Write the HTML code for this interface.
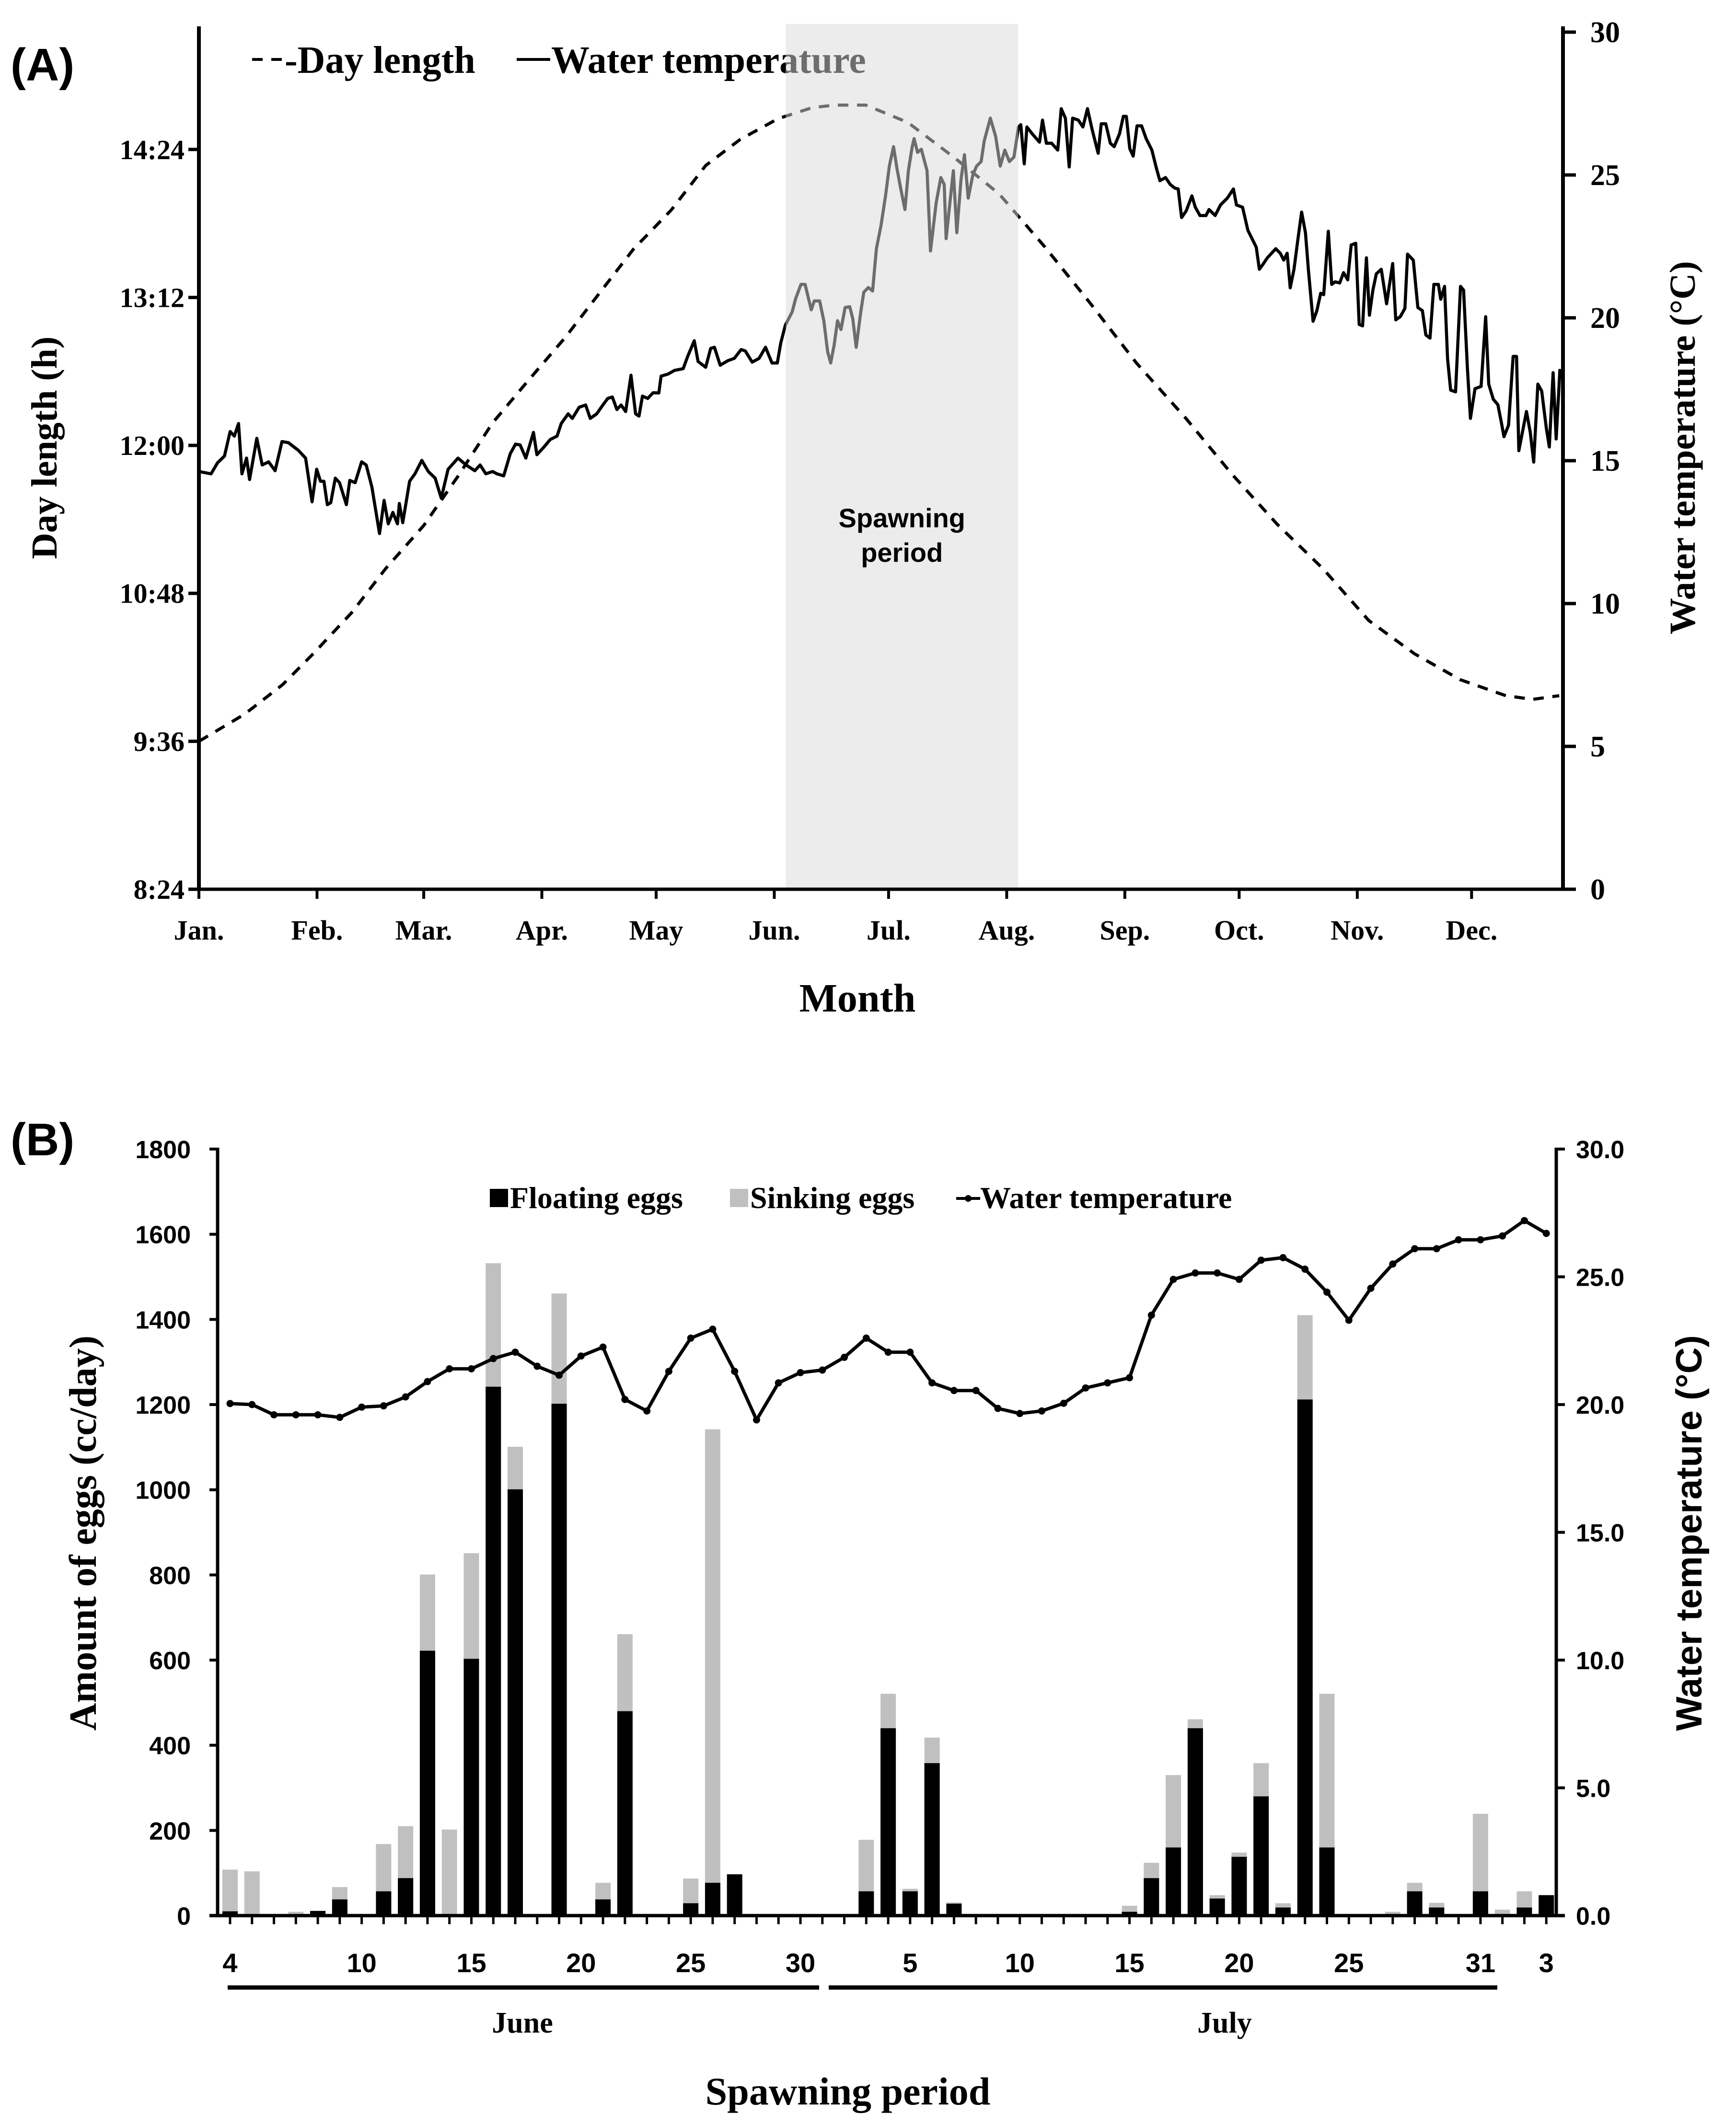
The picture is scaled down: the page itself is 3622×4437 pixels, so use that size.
<!DOCTYPE html>
<html><head><meta charset="utf-8">
<style>
html,body{margin:0;padding:0;background:#fff;}
svg{display:block;}
.tb{font-family:"Liberation Serif",serif;font-weight:bold;fill:#000;}
.sb{font-family:"Liberation Sans",sans-serif;font-weight:bold;fill:#000;}
</style></head>
<body>
<svg id="fig" width="3622" height="4437" viewBox="0 0 3622 4437" xmlns="http://www.w3.org/2000/svg">
<rect width="3622" height="4437" fill="#fff"/>
<g id="panelA"></g>
<g id="panelB"></g>
</svg>
<script>
// ---------- Panel A data ----------
const monthLabels = ["Jan.","Feb.","Mar.","Apr.","May","Jun.","Jul.","Aug.","Sep.","Oct.","Nov.","Dec."];
const monthStartDays = [0,31,59,90,120,151,181,212,243,273,304,334];
const leftTickLabels = ["8:24","9:36","10:48","12:00","13:12","14:24"];
const leftTickHours = [8.4,9.6,10.8,12.0,13.2,14.4];
const rightTickLabelsA = [0,5,10,15,20,25,30];
const dayLenDays = [0,12,22,30,40,49,59,68,77,86,96,105,114,124,133,142,152,161,167,175,186,198,210,222,234,246,259,271,283,295,307,319,331,343,350,357];
const dayLenHours = [9.60,9.82,10.06,10.31,10.64,11.00,11.35,11.75,12.18,12.51,12.87,13.23,13.59,13.91,14.27,14.48,14.65,14.74,14.76,14.76,14.62,14.34,14.04,13.61,13.15,12.67,12.22,11.77,11.36,11.00,10.58,10.31,10.10,9.97,9.94,9.97];
const tempDays = [0,3.2,4.9,6.7,8.2,9.3,10.4,11.3,12.5,13.3,15.2,16.6,18.3,20.0,21.8,23.5,26.1,28.0,29.7,30.9,31.9,32.8,33.7,34.6,35.8,36.9,38.7,39.6,41.0,42.7,43.9,45.4,47.4,48.6,49.7,50.9,52.1,52.6,53.5,55.3,56.7,58.5,60.2,62.0,63.6,65.4,68.0,70.1,72.4,73.8,75.3,77.1,78.2,80.0,81.7,83.1,84.3,85.8,87.8,88.7,90.5,92.2,94.0,95.1,96.9,98.0,99.8,101.5,102.7,104.4,105.6,107.3,108.5,109.7,110.8,112.0,113.4,114.6,115.5,116.4,117.8,119.2,120.7,121.3,123.1,124.8,127.1,128.3,130.0,131.0,133.0,134.3,135.3,136.8,138.8,140.5,142.3,143.4,145.2,147.0,148.7,150.4,151.8,152.7,153.9,155.7,156.6,158.0,159.1,160.7,161.5,162.9,164.0,165.0,165.8,166.7,167.6,168.5,169.6,170.8,171.6,172.5,173.7,174.5,175.7,176.8,177.8,179.0,180.2,181.2,182.3,183.2,184.2,185.3,186.2,187.2,187.7,188.6,189.6,191.1,192.0,193.5,194.7,195.6,196.1,197.1,198.0,198.9,200.0,200.9,201.9,203.1,204.1,205.3,206.1,207.7,209.1,210.3,211.5,212.7,213.9,215.1,215.7,216.6,217.3,218.7,220.6,221.4,222.4,223.8,225.4,226.3,227.4,228.4,229.3,230.8,232.0,233.2,234.4,236.0,236.8,238.0,239.2,240.2,241.6,242.6,243.4,244.3,245.2,246.2,247.4,248.6,250.1,251.3,252.2,253.7,254.9,256.1,257.0,257.9,259.1,260.6,261.5,262.7,264.3,265.1,266.7,268.1,269.9,271.5,272.3,273.9,275.3,276.5,277.5,278.3,279.2,280.4,282.6,283.8,284.7,285.6,286.4,287.4,288.3,289.4,290.4,291.2,292.4,293.4,294.4,295.2,296.4,297.3,298.2,299.4,300.4,301.5,302.4,303.6,304.5,305.4,306.4,307.2,308.1,309.0,310.3,311.7,313.3,314.1,315.3,316.5,317.2,318.7,319.9,321.1,322.0,323.1,324.1,325.3,325.9,326.9,327.7,328.5,329.8,331.1,331.9,332.9,333.7,334.9,336.5,337.7,338.5,339.7,340.9,341.8,342.5,343.7,344.9,345.8,346.4,348.4,349.4,350.3,351.4,352.4,353.6,354.4,355.4,356.2,357.2];
const tempValsA = [14.62,14.54,14.93,15.16,16.02,15.86,16.30,14.54,15.09,14.34,15.78,14.85,14.96,14.65,15.67,15.63,15.36,15.09,13.56,14.70,14.28,14.28,13.46,13.53,14.39,14.23,13.46,14.31,14.23,14.96,14.85,14.08,12.45,13.61,12.79,13.19,12.79,13.50,12.83,14.28,14.54,15.01,14.62,14.39,13.69,14.70,15.09,14.85,14.65,14.85,14.54,14.62,14.54,14.47,15.24,15.58,15.55,15.09,15.99,15.21,15.47,15.74,15.86,16.30,16.64,16.48,16.87,16.95,16.48,16.64,16.87,17.18,17.23,16.79,16.95,16.72,17.99,16.64,16.56,17.26,17.18,17.38,17.37,17.96,18.03,18.16,18.22,18.66,19.20,18.47,18.27,18.93,18.97,18.34,18.50,18.58,18.89,18.84,18.45,18.58,18.97,18.42,18.42,19.12,19.74,20.21,20.67,21.17,21.17,20.28,20.59,20.59,19.90,18.81,18.42,19.04,19.90,19.59,20.36,20.39,19.97,18.97,20.21,20.90,21.06,20.94,22.42,23.22,24.27,25.31,25.99,25.23,24.51,23.79,25.15,25.99,26.27,25.79,25.90,25.15,22.34,24.03,24.91,24.67,22.77,24.03,25.15,22.98,24.83,25.71,24.19,24.99,25.31,25.47,26.19,26.99,26.35,25.31,25.87,25.47,25.63,26.68,26.76,25.39,26.68,26.44,26.15,26.92,26.11,26.11,25.87,27.32,26.99,25.28,26.99,26.92,26.68,27.32,26.60,25.76,26.79,26.79,26.11,25.99,26.44,27.05,27.05,25.92,25.66,26.72,26.72,26.27,25.87,25.23,24.80,24.91,24.67,24.54,24.51,23.51,23.74,24.27,23.87,23.58,23.58,23.79,23.58,23.95,24.19,24.51,23.95,23.87,23.06,22.74,22.47,21.70,21.86,22.10,22.42,22.26,22.02,22.26,21.05,21.70,22.63,23.70,22.98,21.65,19.88,20.25,20.86,20.81,23.03,21.17,21.26,21.22,21.58,21.33,22.55,22.61,19.77,19.72,22.10,20.09,20.97,21.54,21.70,20.49,21.90,19.93,20.04,20.33,22.23,22.02,20.36,20.25,19.40,19.29,21.17,21.17,20.65,21.10,18.57,17.47,17.41,21.10,20.97,18.24,16.48,17.52,17.60,20.04,17.68,17.15,16.96,16.35,15.84,16.24,18.65,18.65,15.35,16.72,16.00,14.95,17.68,17.44,16.16,15.48,18.08,15.76,18.21];
const spawnStartDay = 154, spawnEndDay = 215;

// ---------- Panel B data ----------
const dayLabelsB = ["4","10","15","20","25","30","5","10","15","20","25","31","3"];
const dayLabelIdx = [0,6,11,16,21,26,31,36,41,46,51,57,60];
const eggTicksB = [0,200,400,600,800,1000,1200,1400,1600,1800];
const tempTicksB = ["0.0","5.0","10.0","15.0","20.0","25.0","30.0"];
const barDayIdx  = [0,1,3,4,5,7,8,9,10,11,12,13,15,17,18,21,22,23,29,30,31,32,33,41,42,43,44,45,46,47,48,49,50,53,54,55,57,58,59,60];
const floatingEggs=[10,0,0,11,38,57,88,622,0,603,1242,1001,1202,38,480,29,77,97,57,440,57,358,28,9,88,160,440,40,138,280,19,1212,160,0,57,19,57,0,19,48];
const totalEggs  =[108,104,9,11,67,168,210,801,202,851,1532,1101,1461,77,661,87,1142,97,178,521,63,418,31,23,124,330,461,48,148,358,29,1410,521,9,77,30,239,14,57,48];
const waterTempB = [20.04,20.0,19.6,19.6,19.6,19.5,19.9,19.95,20.3,20.9,21.4,21.4,21.8,22.05,21.5,21.15,21.9,22.25,20.2,19.75,21.3,22.6,22.95,21.3,19.4,20.85,21.25,21.35,21.85,22.6,22.05,22.05,20.85,20.55,20.55,19.85,19.65,19.75,20.05,20.65,20.85,21.05,23.5,24.9,25.15,25.15,24.9,25.65,25.75,25.3,24.4,23.3,24.55,25.5,26.1,26.1,26.45,26.45,26.6,27.2,26.7];

const NS="http://www.w3.org/2000/svg";
function mk(parent, tag, attrs, text){
  const e=document.createElementNS(NS,tag);
  for(const k in attrs) e.setAttribute(k,attrs[k]);
  if(text!==undefined) e.textContent=text;
  parent.appendChild(e);
  return e;
}
// ========== PANEL A ==========
const A=document.getElementById('panelA');
const xA=d=>415+d*7.95;
const yL=h=>1855-(h-8.4)*257.2;
const yR=t=>1855-t*59.6;
let t;
t=mk(A,'text',{x:22,y:168,'font-size':96,class:'sb'},'(A)');


// legend
let lg=mk(A,'g',{});


t=mk(lg,'line',{x1:526,y1:124,x2:548,y2:124,stroke:'#000','stroke-width':6});
t=mk(lg,'line',{x1:566,y1:124,x2:588,y2:124,stroke:'#000','stroke-width':6});
t=mk(lg,'text',{x:594,y:152,'font-size':80,class:'tb'},'-Day length');


t=mk(lg,'line',{x1:1078,y1:124,x2:1148,y2:124,stroke:'#000','stroke-width':6});
t=mk(lg,'text',{x:1150,y:152,'font-size':80,class:'tb'},'Water temperature');


// day length
let pts=dayLenDays.map((d,i)=>xA(d).toFixed(1)+','+yL(dayLenHours[i]).toFixed(1)).join(' ');
t=mk(A,'polyline',{points:pts,fill:'none',stroke:'#000','stroke-width':6.5,'stroke-dasharray':'22 18'});


// water temperature
pts=tempDays.map((d,i)=>xA(d).toFixed(1)+','+yR(tempValsA[i]).toFixed(1)).join(' ');
t=mk(A,'polyline',{points:pts,fill:'none',stroke:'#000','stroke-width':6.5,'stroke-linejoin':'round'});


// spawning shade (overlay making content gray)
t=mk(A,'rect',{x:xA(spawnStartDay),y:50,width:xA(spawnEndDay)-xA(spawnStartDay),height:1805,fill:'#d9d9d9','fill-opacity':0.5});


const sx=(xA(spawnStartDay)+xA(spawnEndDay))/2;
t=mk(A,'text',{x:sx,y:1100,'font-size':56,class:'sb','text-anchor':'middle',fill:'#222'},'Spawning');


t=mk(A,'text',{x:sx,y:1172,'font-size':56,class:'sb','text-anchor':'middle'},'period');


// axes
t=mk(A,'line',{x1:415,y1:55,x2:415,y2:1858,stroke:'#000','stroke-width':8});


t=mk(A,'line',{x1:3261,y1:55,x2:3261,y2:1858,stroke:'#000','stroke-width':8});


t=mk(A,'line',{x1:411,y1:1855,x2:3265,y2:1855,stroke:'#000','stroke-width':7});


leftTickHours.forEach((h,i)=>{
  mk(A,'line',{x1:393,y1:yL(h),x2:415,y2:yL(h),stroke:'#000','stroke-width':7});
  const e=mk(A,'text',{x:385,y:yL(h)+20,'font-size':58,class:'tb','text-anchor':'end'},leftTickLabels[i]);
  
  
});
rightTickLabelsA.forEach(v=>{
  mk(A,'line',{x1:3261,y1:yR(v),x2:3288,y2:yR(v),stroke:'#000','stroke-width':7});
  const e=mk(A,'text',{x:3318,y:yR(v)+21,'font-size':62,class:'tb'},String(v));
  
  
});
monthStartDays.forEach((d,i)=>{
  mk(A,'line',{x1:xA(d),y1:1855,x2:xA(d),y2:1875,stroke:'#000','stroke-width':6});
  const e=mk(A,'text',{x:xA(d),y:1960,'font-size':58,class:'tb','text-anchor':'middle'},monthLabels[i]);
  
  
});
t=mk(A,'text',{x:1789,y:2110,'font-size':84,class:'tb','text-anchor':'middle'},'Month');


t=mk(A,'text',{x:0,y:0,'font-size':76,class:'tb','text-anchor':'middle',transform:'translate(118,934) rotate(-90)'},'Day length (h)');


t=mk(A,'text',{x:0,y:0,'font-size':76,class:'tb','text-anchor':'middle',transform:'translate(3536,934) rotate(-90)'},'Water temperature (°C)');



// ========== PANEL B ==========
const B=document.getElementById('panelB');
const xB=i=>480+i*45.77;
const yB=v=>3996-v*0.8883;
const yT=v=>3996-v*53.3;
t=mk(B,'text',{x:22,y:2410,'font-size':96,class:'sb'},'(B)');


// bars
barDayIdx.forEach((d,i)=>{
  const x=xB(d)-16;
  const g=mk(B,'rect',{x:x,y:yB(totalEggs[i]),width:32,height:3996-yB(totalEggs[i]),fill:'#c0c0c0'});
  
  
  const b=mk(B,'rect',{x:x,y:yB(floatingEggs[i]),width:32,height:3996-yB(floatingEggs[i]),fill:'#000'});
  
  
});
// temperature line
pts=waterTempB.map((v,i)=>xB(i).toFixed(1)+','+yT(v).toFixed(1)).join(' ');
t=mk(B,'polyline',{points:pts,fill:'none',stroke:'#000','stroke-width':7,'stroke-linejoin':'round'});


waterTempB.forEach((v,i)=>{
  const c=mk(B,'circle',{cx:xB(i),cy:yT(v),r:7.5,fill:'#000'});
  
  
});
// axes
t=mk(B,'line',{x1:454,y1:2394,x2:454,y2:3999,stroke:'#000','stroke-width':7});


t=mk(B,'line',{x1:3247,y1:2394,x2:3247,y2:3999,stroke:'#000','stroke-width':7});


t=mk(B,'line',{x1:437,y1:3996,x2:3265,y2:3996,stroke:'#000','stroke-width':7});


eggTicksB.forEach(v=>{
  mk(B,'line',{x1:437,y1:yB(v),x2:454,y2:yB(v),stroke:'#000','stroke-width':6});
  const e=mk(B,'text',{x:398,y:yB(v)+19,'font-size':52,class:'sb','text-anchor':'end'},String(v));
  
  
});
tempTicksB.forEach(s=>{
  const v=parseFloat(s);
  mk(B,'line',{x1:3247,y1:yT(v),x2:3265,y2:yT(v),stroke:'#000','stroke-width':6});
  const e=mk(B,'text',{x:3288,y:yT(v)+19,'font-size':52,class:'sb'},s);
  
  
});
for(let i=0;i<waterTempB.length;i++){
  mk(B,'line',{x1:xB(i),y1:3996,x2:xB(i),y2:4014,stroke:'#000','stroke-width':5});
}
dayLabelIdx.forEach((d,i)=>{
  const e=mk(B,'text',{x:xB(d),y:4114,'font-size':56,class:'sb','text-anchor':'middle'},dayLabelsB[i]);
  
  
});
t=mk(B,'line',{x1:475,y1:4146,x2:1709,y2:4146,stroke:'#000','stroke-width':9});


t=mk(B,'line',{x1:1729,y1:4146,x2:3124,y2:4146,stroke:'#000','stroke-width':9});


t=mk(B,'text',{x:1090,y:4240,'font-size':62,class:'tb','text-anchor':'middle'},'June');


t=mk(B,'text',{x:2555,y:4240,'font-size':62,class:'tb','text-anchor':'middle'},'July');


t=mk(B,'text',{x:1769,y:4390,'font-size':82,class:'tb','text-anchor':'middle'},'Spawning period');


t=mk(B,'text',{x:0,y:0,'font-size':80,class:'tb','text-anchor':'middle',transform:'translate(200,3198) rotate(-90)'},'Amount of eggs (cc/day)');


t=mk(B,'text',{x:0,y:0,'font-size':76,class:'sb','text-anchor':'middle',transform:'translate(3550,3198) rotate(-90)'},'Water temperature (°C)');


// legend B
const lb=mk(B,'g',{});


mk(lb,'rect',{x:1022,y:2480,width:38,height:38,fill:'#000'});
t=mk(lb,'text',{x:1064,y:2520,'font-size':64,class:'tb'},'Floating eggs');


mk(lb,'rect',{x:1523,y:2480,width:38,height:38,fill:'#c0c0c0'});
t=mk(lb,'text',{x:1565,y:2520,'font-size':64,class:'tb'},'Sinking eggs');


mk(lb,'line',{x1:1995,y1:2500,x2:2045,y2:2500,stroke:'#000','stroke-width':6});
mk(lb,'circle',{cx:2020,cy:2500,r:7,fill:'#000'});
t=mk(lb,'text',{x:2045,y:2520,'font-size':64,class:'tb'},'Water temperature');


</script>
</body></html>
